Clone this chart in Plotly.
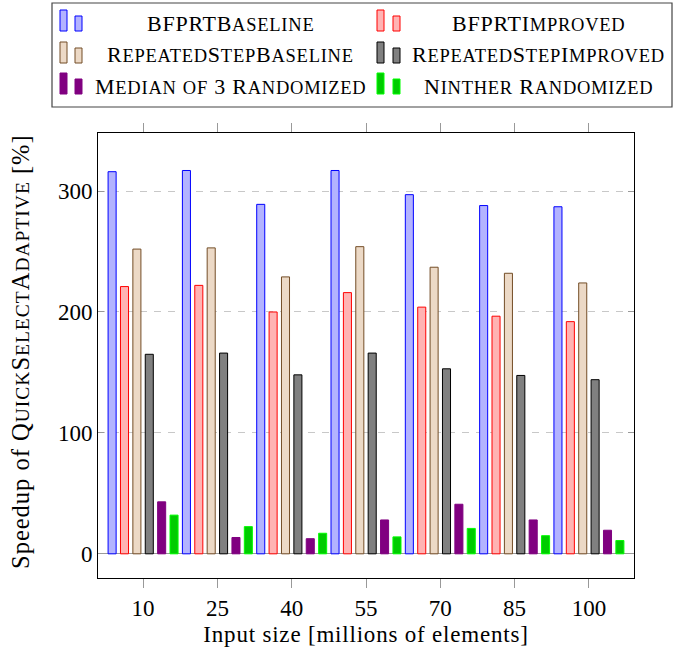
import plotly.graph_objects as go

# Input sizes (millions of elements)
sizes = [10, 25, 40, 55, 70, 85, 100]

# Speedup of QuickSelectAdaptive over each algorithm [%]
bfprt_baseline = [316, 317, 289, 317, 297, 288, 287]
bfprt_improved = [221, 222, 200, 216, 204, 196.5, 192]
repeated_step_baseline = [252, 253, 229, 254, 237, 232, 224]
repeated_step_improved = [165, 166, 148, 166, 153, 147.5, 144]
median3_randomized = [43, 13.5, 12.5, 28, 41, 28, 19.5]
ninther_randomized = [32, 22.5, 17, 14, 21, 15, 11]

FONT = "Liberation Serif"
TICK = 23
BIG = 23
YT_BIG = 24.5
YT_SMALL = 19.5
LEG_BIG = 22
LEG_SMALL = 18.5


def smallcaps(text, small):
    """Emulate LaTeX small caps: lowercase letters become smaller capitals."""
    out = []
    run = ""
    for ch in text:
        if ch.islower():
            run += ch.upper()
        else:
            if run:
                out.append(f'<span style="font-size:{small}px">{run}</span>')
                run = ""
            out.append(ch)
    if run:
        out.append(f'<span style="font-size:{small}px">{run}</span>')
    return "".join(out)


def spaced(html, px=0.8):
    return f'<span style="letter-spacing:{px}px">{html}</span>'


series = [
    ("BFPRTB" + smallcaps("aseline", LEG_SMALL), bfprt_baseline, "#B3B3FF", "#0000FF"),
    ("BFPRTI" + smallcaps("mproved", LEG_SMALL), bfprt_improved, "#FFB3B3", "#FF0000"),
    (smallcaps("RepeatedStepBaseline", LEG_SMALL), repeated_step_baseline, "#ECD9C6", "#734D26"),
    (smallcaps("RepeatedStepImproved", LEG_SMALL), repeated_step_improved, "#808080", "#000000"),
    (smallcaps("Median of ", LEG_SMALL) + "3 " + smallcaps("Randomized", LEG_SMALL), median3_randomized, "#800080", "#800080"),
    (smallcaps("Ninther Randomized", LEG_SMALL), ninther_randomized, "#00CC00", "#00FF00"),
]

fig = go.Figure()
for name, vals, fill, line in series:
    fig.add_trace(go.Bar(
        x=sizes, y=vals, name=name,
        marker=dict(color=fill, line=dict(color=line, width=1)),
        showlegend=False,
    ))

# Figure geometry in pixels
W, H = 674, 664
L, R, T, B = 98, 40, 133, 86
PW, PH = W - L - R, H - T - B


def px(x):
    return (x - L) / PW


def py(y):
    return (H - B - y) / PH


shapes = []
annotations = []

# Legend frame
shapes.append(dict(type="rect", xref="paper", yref="paper",
                   x0=px(52), x1=px(672), y0=py(107), y1=py(3),
                   line=dict(color="#444444", width=1.2), fillcolor="white", layer="above"))

legend_cols = [(60, 75, 230), (377, 393, 538)]
legend_rows = [31, 63, 94]
for i, (name, vals, fill, line) in enumerate(series):
    col, row = i % 2, i // 2
    b1, b2, tc = legend_cols[col]
    base = legend_rows[row]
    for bx, hgt in ((b1, 21), (b2, 15)):
        shapes.append(dict(type="rect", xref="paper", yref="paper",
                           x0=px(bx), x1=px(bx + 7), y0=py(base), y1=py(base - hgt),
                           line=dict(color=line, width=1), fillcolor=fill, layer="above"))
    annotations.append(dict(xref="paper", yref="paper", x=px(tc), y=py(base - 8),
                            text=spaced(name, 0.75), showarrow=False, xanchor="center", yanchor="middle",
                            font=dict(family=FONT, size=LEG_BIG, color="black")))

# Y-axis title
annotations.append(dict(xref="paper", yref="paper", x=px(20), y=py(352),
                        text=spaced("Speedup of " + smallcaps("QuickSelectAdaptive", YT_SMALL) + " [%]", 1.0),
                        textangle=-90, showarrow=False, xanchor="center", yanchor="middle",
                        font=dict(family=FONT, size=YT_BIG, color="black")))

fig.update_layout(
    width=W, height=H,
    margin=dict(l=L, r=R, t=T, b=B),
    paper_bgcolor="white", plot_bgcolor="white",
    barmode="group", bargap=0, bargroupgap=0.35,
    font=dict(family=FONT, size=BIG, color="black"),
    shapes=shapes, annotations=annotations,
    xaxis=dict(
        range=[0.9, 109.1], tickvals=sizes, ticktext=[str(s) for s in sizes],
        showgrid=False, zeroline=False,
        showline=True, linecolor="black", linewidth=1, mirror="ticks",
        ticks="outside", ticklen=9, tickcolor="#999999", tickwidth=1,
        tickfont=dict(family=FONT, size=TICK),
        title=dict(text=spaced("Input size [millions of elements]", 0.8),
                   font=dict(family=FONT, size=BIG), standoff=6),
    ),
    yaxis=dict(
        range=[-20, 348], tickvals=[0, 100, 200, 300],
        showgrid=True, gridcolor="#C8C8C8", griddash="7px,7px", gridwidth=1,
        zeroline=True, zerolinecolor="#999999", zerolinewidth=1,
        showline=True, linecolor="black", linewidth=1, mirror="ticks",
        ticks="inside", ticklen=6, tickcolor="#999999", tickwidth=1,
        tickfont=dict(family=FONT, size=TICK),
    ),
)

fig.write_html("out.html")
